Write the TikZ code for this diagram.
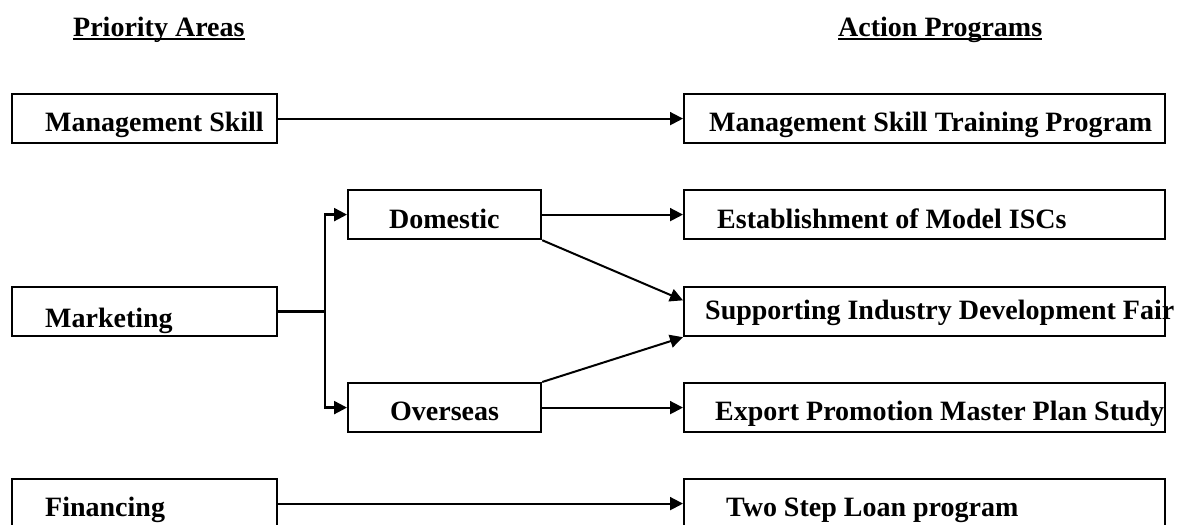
\documentclass[tikz,border=0pt]{standalone}
\usepackage{fontspec}
\setmainfont{Liberation Serif}
\usetikzlibrary{arrows.meta,calc}
\begin{document}
\begin{tikzpicture}[x=1pt,y=-1pt,
  box/.style={draw,line width=2.2pt,minimum height=49pt,inner sep=0pt,anchor=north west},
  lbl/.style={anchor=base west,inner sep=0pt,font=\fontsize{28}{30}\selectfont\bfseries},
  conn/.style={line width=2pt},
  arr/.style={conn,-{Triangle[length=13pt,width=13pt]}},
  uline/.style={line width=2pt}
]
\path[use as bounding box] (0,0) rectangle (1184,525);

% headings
\node[lbl] (pa) at (73,36) {Priority Areas};
\node[lbl] (ap) at (838,36) {Action Programs};
\draw[uline] ([yshift=-3pt]pa.base west) -- ([yshift=-3pt]pa.base east);
\draw[uline] ([yshift=-3pt]ap.base west) -- ([yshift=-3pt]ap.base east);

% boxes
\node[box,minimum width=265pt] (ms)   at (11,93)   {};
\node[box,minimum width=481pt] (mstp) at (683,93)  {};
\node[box,minimum width=193pt] (dom)  at (347,189) {};
\node[box,minimum width=481pt] (isc)  at (683,189) {};
\node[box,minimum width=265pt] (mkt)  at (11,286)  {};
\node[box,minimum width=481pt] (fair) at (683,286) {};
\node[box,minimum width=193pt] (ovs)  at (347,382) {};
\node[box,minimum width=481pt] (exp)  at (683,382) {};
\node[box,minimum width=265pt] (fin)  at (11,478)  {};
\node[box,minimum width=481pt] (tsl)  at (683,478) {};

% box texts
\node[lbl] (ms-t)   at (45,131.5) {Management Skill};
\node[lbl] (mstp-t) at (709,131)  {Management Skill Training Program};
\node[lbl] (dom-t)  at (389,228)  {Domestic};
\node[lbl] (isc-t)  at (717,228)  {Establishment of Model ISCs};
\node[lbl] (mkt-t)  at (45,327)   {Marketing};
\node[lbl] (fair-t) at (705,319)  {Supporting Industry Development Fair};
\node[lbl] (ovs-t)  at (390,420)  {Overseas};
\node[lbl] (exp-t)  at (715,420)  {Export Promotion Master Plan Study};
\node[lbl] (fin-t)  at (45,516)   {Financing};
\node[lbl] (tsl-t)  at (726,516)  {Two Step Loan program};

% connectors
\draw[arr] (ms.east) -- (mstp.west);
\draw[arr] (dom.east) -- (isc.west);
\draw[arr] (ovs.east) -- (exp.west);
\draw[arr] (fin.east) -- (tsl.west);

\coordinate (br) at ($(mkt.east)+(47,0)$);
\draw[conn,line width=2.3pt] (mkt.east) -- (br);
\draw[arr,line width=2.3pt] (br) |- (dom.west);
\draw[arr,line width=2.3pt] (br) |- (ovs.west);

\draw[arr] (dom.south east) -- ($(fair.north west)!0.28!(fair.south west)$);
\draw[arr] (ovs.north east) -- (fair.south west);
\end{tikzpicture}
\end{document}
